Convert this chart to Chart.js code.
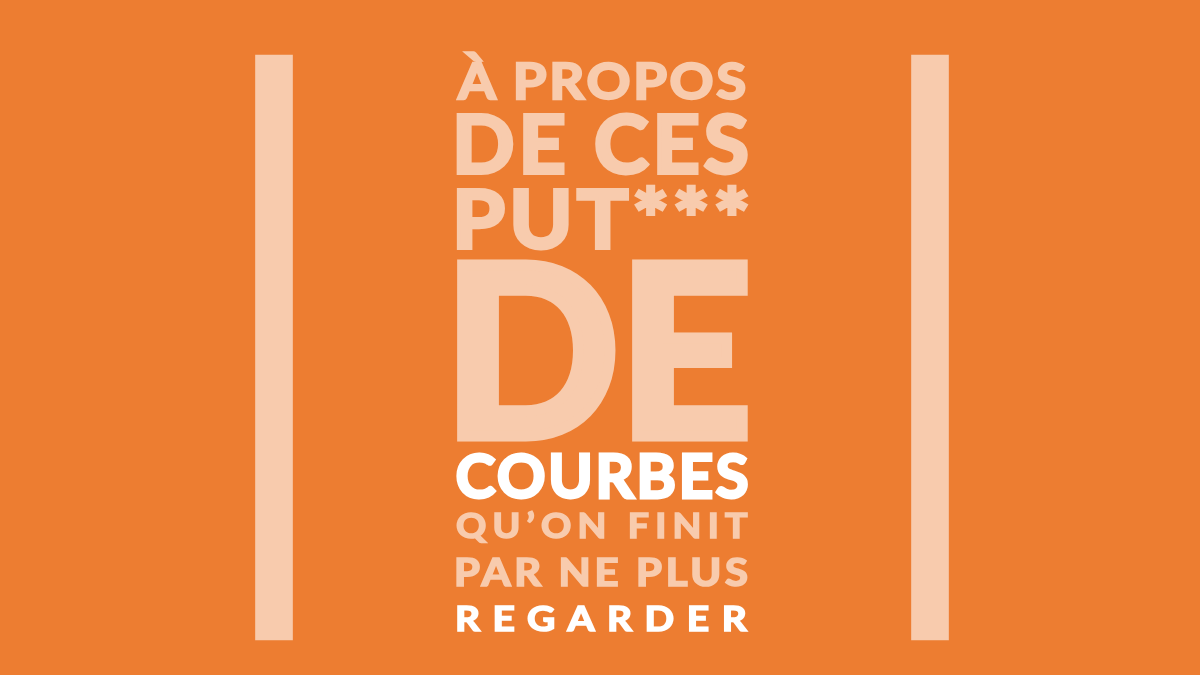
<!DOCTYPE html>
<html lang="fr">
<head>
<meta charset="utf-8">
<script src="https://cdn.jsdelivr.net/npm/chart.js@4.4.1/dist/chart.umd.min.js"></script>
<style>
  html, body { margin: 0; padding: 0; background: #ED7D31; }
  #wrap { position: relative; width: 1200px; height: 675px; overflow: hidden; background: #ED7D31; }
  #poster { position: absolute; left: 0; top: 0; }
  .line { position: absolute; white-space: nowrap; font-family: Lato, "Open Sans", sans-serif; font-weight: 700; transform-origin: 0 0; }
</style>
</head>
<body>
<div id="wrap">
  <canvas id="poster" width="1200" height="675"></canvas>
  <div id="words"></div>
</div>
<script>
// the two vertical bands (y runs top-down, 0..675)
const barLabels = ['gauche', 'droite'];
const barStart = [55, 55];
const barEnd = [640, 640];

// poster text, one entry per line
const textLines = ['À PROPOS', 'DE CES', 'PUT***', 'DE', 'COURBES', 'QU’ON FINIT', 'PAR NE PLUS', 'REGARDER'];

// layout of the text column
const PEACH = '#F8CBAD';
const WHITE = '#FFFFFF';
const colLeft = 456, colRight = 748;
const lineBaseline = [101, 175, 250, 442, 500, 540, 587, 633];
const lineCap = [39, 63, 63, 183, 47, 26, 29, 27];
const lineColor = [PEACH, PEACH, PEACH, PEACH, WHITE, PEACH, PEACH, WHITE];
const strokeRatio = 0.06; // Lato Bold is lighter than the poster face, fatten it a bit
const widen = 1.12;       // and a bit narrower too
const minTrack = 0.05;    // keep at least this much letter spacing (in em)

function drawWords() {
  const ctx = document.createElement('canvas').getContext('2d');
  const box = document.getElementById('words');
  const width = colRight - colLeft;
  const family = 'Lato, "Open Sans", sans-serif';

  ctx.font = `700 100px ${family}`;
  const capRatio = ctx.measureText('H').actualBoundingBoxAscent / 100;

  textLines.forEach((text, i) => {
    const sw = lineCap[i] * strokeRatio;
    const size = (lineCap[i] - sw) / capRatio;
    ctx.font = `700 ${size}px ${family}`;
    const m = ctx.measureText(text);
    const inkW = m.actualBoundingBoxLeft + m.actualBoundingBoxRight + sw;
    const n = [...text].length;
    const gaps = Math.max(n - 1, 1);
    let s = Math.min(widen, width / (inkW + minTrack * size * (n - 1)));
    s = Math.max(s, 1);
    let ls = n > 1 ? (width / s - inkW) / gaps : 0;
    if (ls < 0) { ls = 0; s = width / inkW; }

    const fA = m.fontBoundingBoxAscent, fD = m.fontBoundingBoxDescent;
    const base = lineBaseline[i] - sw / 2;
    const top = base - (size - fA - fD) / 2 - fA;

    const div = document.createElement('div');
    div.className = 'line';
    div.textContent = text;
    div.style.fontSize = size + 'px';
    div.style.lineHeight = size + 'px';
    div.style.letterSpacing = ls + 'px';
    div.style.color = lineColor[i];
    div.style.webkitTextStroke = `${sw}px ${lineColor[i]}`;
    div.style.left = (colLeft + (m.actualBoundingBoxLeft + sw / 2) * s) + 'px';
    div.style.top = top + 'px';
    div.style.transform = `scaleX(${s})`;
    box.appendChild(div);
  });
}

new Chart(document.getElementById('poster'), {
  type: 'bar',
  data: {
    labels: barLabels,
    datasets: [{
      data: barLabels.map((_, i) => [barStart[i], barEnd[i]]),
      backgroundColor: PEACH,
      barThickness: 37,
      borderSkipped: false,
      clip: false
    }]
  },
  options: {
    responsive: false,
    animation: false,
    devicePixelRatio: 1,
    layout: { padding: { left: 274, right: 270, top: 0, bottom: 0 } },
    scales: {
      x: { display: false, offset: false },
      y: { display: false, min: 0, max: 675, reverse: true }
    },
    plugins: { legend: { display: false }, tooltip: { enabled: false } }
  }
});

drawWords();
</script>
</body>
</html>
